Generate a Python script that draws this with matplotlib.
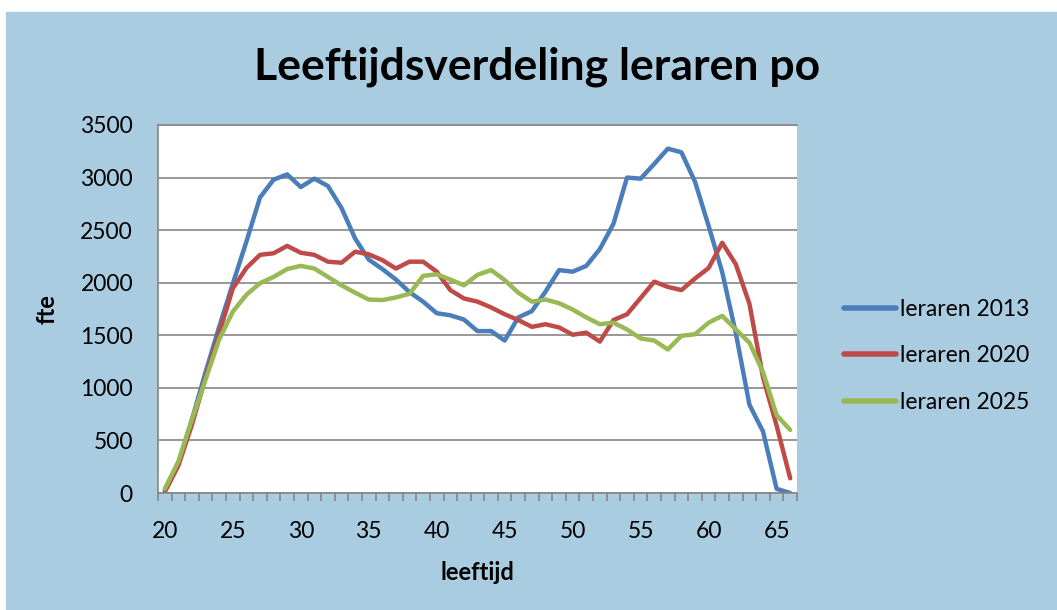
import matplotlib.pyplot as plt
from matplotlib.patches import Rectangle
import numpy as np

ages = list(range(20, 67))

leraren_2013 = [30, 280, 700, 1150, 1580, 1990, 2390, 2810, 2980, 3030,
                2910, 2990, 2920, 2710, 2420, 2220, 2130, 2030, 1910, 1820,
                1710, 1690, 1650, 1540, 1540, 1450, 1670, 1730, 1915, 2120,
                2105, 2160, 2320, 2560, 3000, 2990, 3130, 3275, 3240, 2960,
                2540, 2100, 1520, 840, 585, 40, 0]
leraren_2020 = [10, 260, 650, 1100, 1520, 1945, 2140, 2265, 2280, 2350,
                2285, 2265, 2200, 2190, 2295, 2270, 2215, 2135, 2200, 2200,
                2105, 1930, 1850, 1820, 1765, 1700, 1645, 1580, 1605, 1575,
                1505, 1525, 1440, 1645, 1700, 1855, 2010, 1960, 1930, 2040,
                2140, 2380, 2175, 1800, 1100, 640, 140]
leraren_2025 = [40, 300, 700, 1080, 1460, 1725, 1885, 1995, 2055, 2130,
                2160, 2135, 2055, 1975, 1905, 1840, 1835, 1860, 1895, 2065,
                2080, 2030, 1975, 2075, 2120, 2025, 1905, 1820, 1840, 1805,
                1745, 1670, 1605, 1620, 1555, 1470, 1450, 1365, 1495, 1510,
                1620, 1685, 1555, 1430, 1150, 740, 600]

series = [("leraren 2013", leraren_2013, "#4A7EBB"),
          ("leraren 2020", leraren_2020, "#BE4B48"),
          ("leraren 2025", leraren_2025, "#98B954")]

plt.rcParams['font.family'] = ['Lato', 'DejaVu Sans']

W, H = 1057, 610
fig = plt.figure(figsize=(W / 100, H / 100), dpi=100, facecolor='white')
bg = '#AACCE1'
fig.patches.append(Rectangle((6 / W, 0), 1 - 6 / W, 1 - 12 / H,
                             transform=fig.transFigure, color=bg, zorder=-10))

ax = fig.add_axes([158 / W, (H - 493) / H, (797 - 158) / W, (493 - 125) / H])
ax.set_facecolor('white')

for name, vals, col in series:
    ax.plot(ages, vals, color=col, lw=3.2, label=name, solid_capstyle='round')

ax.set_xlim(19.5, 66.5)
ax.set_ylim(0, 3500)
ax.set_yticks(np.arange(0, 3501, 500))
ax.set_xticks(np.arange(20, 66, 5))
ax.set_xticks(np.arange(19.5, 67, 1), minor=True)
ax.grid(axis='y', color='#868686', lw=1.2)
ax.set_axisbelow(True)

ax.tick_params(axis='x', which='major', length=0, labelsize=16.5, pad=20)
ax.tick_params(axis='x', which='minor', length=6, width=1.2, color='#868686')
ax.tick_params(axis='y', length=0, labelsize=16.5, pad=18)

ax.spines['right'].set_visible(False)
for s in ['left', 'bottom', 'top']:
    ax.spines[s].set_color('#868686')
    ax.spines[s].set_linewidth(1.2)

ax.set_xlabel('leeftijd', fontsize=17, fontweight='bold', labelpad=14)
ax.set_ylabel('fte', fontsize=17, fontweight='bold', labelpad=16)

fig.text(537 / W, 1 - 67 / H, 'Leeftijdsverdeling leraren po', ha='center',
         va='center', fontsize=32, fontweight='bold')

leg = fig.legend(loc='center left', bbox_to_anchor=(823 / W, 1 - 356 / H),
                 frameon=False, fontsize=16.5, handlelength=2.3,
                 handletextpad=0.15, labelspacing=1.1)
for line in leg.get_lines():
    line.set_linewidth(4)

fig.savefig('out.png', dpi=100, facecolor=fig.get_facecolor())
